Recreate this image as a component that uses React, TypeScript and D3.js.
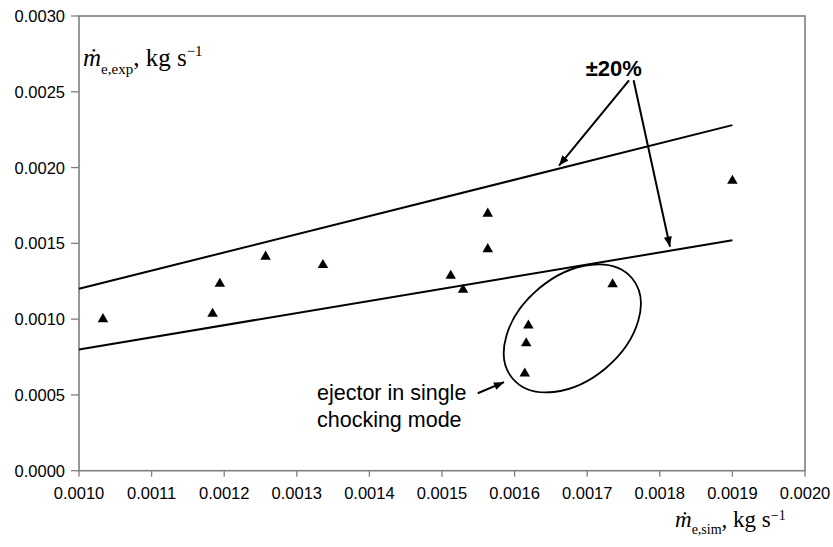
import React from "react";
import * as d3 from "d3";

// measured points: simulated vs experimental ejector mass flow
const simFlow = [
  0.001033, 0.001184, 0.001194, 0.001257, 0.001336, 0.001512, 0.001529,
  0.001563, 0.001563, 0.001735, 0.001619, 0.001616, 0.001614, 0.0019,
];
const expFlow = [
  0.001, 0.001035, 0.001233, 0.001412, 0.001357, 0.001286, 0.001194,
  0.001696, 0.001462, 0.00123, 0.000958, 0.000841, 0.000641, 0.001913,
];

// +/-20% band
const bandX = [0.001, 0.0019];
const bandUpper = [0.0012, 0.00228];
const bandLower = [0.0008, 0.00152];

const xTicks = [0.001, 0.0011, 0.0012, 0.0013, 0.0014, 0.0015, 0.0016, 0.0017, 0.0018, 0.0019, 0.002];
const yTicks = [0, 0.0005, 0.001, 0.0015, 0.002, 0.0025, 0.003];

const W = 833;
const H = 547;
const m = { left: 79, top: 16, right: 28, bottom: 76.3 };

const App = () => {
  const x = d3.scaleLinear().domain([0.001, 0.002]).range([m.left, W - m.right]);
  const y = d3.scaleLinear().domain([0, 0.003]).range([H - m.bottom, m.top]);
  const tri = d3.symbol().type(d3.symbolTriangle).size(48)();
  const upper = d3.line<number>().x((d) => x(bandX[d])).y((d) => y(bandUpper[d]))([0, 1]);
  const lower = d3.line<number>().x((d) => x(bandX[d])).y((d) => y(bandLower[d]))([0, 1]);
  const grey = "#7f7f7f";
  const sans = "'Liberation Sans', Arial, sans-serif";
  const serif = "'Liberation Serif', 'Times New Roman', serif";

  return (
    <svg width={W} height={H} style={{ position: "absolute", left: 0, top: 0 }}>
      <defs>
        <marker id="ah" viewBox="0 0 10 8" refX="10" refY="4" markerWidth="11" markerHeight="8"
          markerUnits="userSpaceOnUse" orient="auto">
          <path d="M0,0 L10,4 L0,8 Z" fill="#000" />
        </marker>
      </defs>
      <rect x={m.left} y={m.top} width={W - m.left - m.right} height={H - m.top - m.bottom}
        fill="none" stroke={grey} strokeWidth={1.6} />
      {yTicks.map((t) => (
        <g key={"y" + t}>
          <line x1={m.left - 8} x2={m.left} y1={y(t)} y2={y(t)} stroke={grey} strokeWidth={1.3} />
          <text x={m.left - 14} y={y(t) + 6} textAnchor="end" fontFamily={sans} fontSize={16.5}>
            {t.toFixed(4)}
          </text>
        </g>
      ))}
      {xTicks.map((t) => (
        <g key={"x" + t}>
          <line x1={x(t)} x2={x(t)} y1={y(0)} y2={y(0) + 6} stroke={grey} strokeWidth={1.3} />
          <text x={x(t)} y={499} textAnchor="middle" fontFamily={sans} fontSize={16.5}>
            {t.toFixed(4)}
          </text>
        </g>
      ))}
      <path d={upper ?? ""} stroke="#000" strokeWidth={2} fill="none" />
      <path d={lower ?? ""} stroke="#000" strokeWidth={2} fill="none" />
      {simFlow.map((s, i) => (
        <path key={i} d={tri ?? ""} transform={`translate(${x(s)},${y(expFlow[i])})`} fill="#000" />
      ))}
      <ellipse cx={x(0.0016795)} cy={y(0.000939)} rx={78} ry={52}
        transform={`rotate(-40 ${x(0.0016795)} ${y(0.000939)})`}
        fill="none" stroke="#000" strokeWidth={1.8} />
      <text x={x(0.0016979)} y={y(0.002606)} fontFamily={sans} fontWeight="bold" fontSize={22}>
        ±20%
      </text>
      <line x1={x(0.0017576)} y1={y(0.002576)} x2={x(0.0016612)} y2={y(0.002013)}
        stroke="#000" strokeWidth={2} markerEnd="url(#ah)" />
      <line x1={x(0.0017639)} y1={y(0.002576)} x2={x(0.001814)} y2={y(0.001478)}
        stroke="#000" strokeWidth={2} markerEnd="url(#ah)" />
      <line x1={x(0.0015492)} y1={y(0.000511)} x2={x(0.0015854)} y2={y(0.000584)}
        stroke="#000" strokeWidth={2} markerEnd="url(#ah)" />
      <text fontFamily={sans} fontSize={21.5}>
        <tspan x={x(0.0013278)} y={y(0.000467)}>ejector in single</tspan>
        <tspan x={x(0.0013278)} y={y(0.000289)}>chocking mode</tspan>
      </text>
      <text x={83} y={66} fontFamily={serif} fontSize={25}>
        <tspan fontStyle="italic">ṁ</tspan>
        <tspan fontSize={15} dy={8}>e,exp</tspan>
        <tspan dy={-8}>, kg s</tspan>
        <tspan fontSize={15} dy={-10}>−1</tspan>
      </text>
      <text x={675} y={527} fontFamily={serif} fontSize={23}>
        <tspan fontStyle="italic">ṁ</tspan>
        <tspan fontSize={14} dy={7}>e,sim</tspan>
        <tspan dy={-7}>, kg s</tspan>
        <tspan fontSize={14} dy={-7}>−1</tspan>
      </text>
    </svg>
  );
};

export default App;
